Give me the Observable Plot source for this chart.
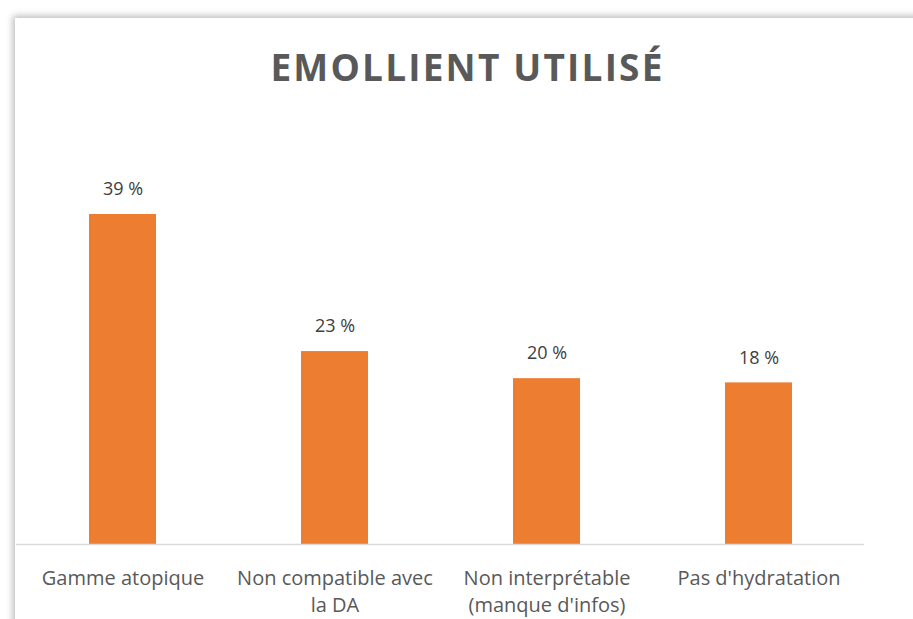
<!DOCTYPE html>
<html>
<head>
<meta charset="utf-8">
<script src="https://cdn.jsdelivr.net/npm/d3@7"></script>
<script src="https://cdn.jsdelivr.net/npm/@observablehq/plot@0.6"></script>
<style>
  html, body { margin: 0; padding: 0; background: #fff; overflow: hidden; }
  body { width: 913px; height: 619px; position: relative; }
  #frame { position: absolute; left: 15px; top: 18px; width: 1000px; height: 700px;
           background: #fff; box-shadow: -2px -2px 7px rgba(0,0,0,0.28); }
  #title { position: absolute; left: 0; width: 935px; top: 41px; text-align: center;
           font-family: "Open Sans", sans-serif; font-weight: 700; font-size: 37px;
           letter-spacing: 2.2px; color: #595959; }
  #chart { position: absolute; left: 0; top: 0; }
</style>
</head>
<body>
<div id="frame"></div>
<div id="title">EMOLLIENT UTILISÉ</div>
<div id="chart"></div>
<script>
const categories = ["Gamme atopique", "Non compatible avec\nla DA", "Non interprétable\n(manque d'infos)", "Pas d'hydratation"];
const values = [39, 22.8, 19.6, 19.1];
const valueLabels = ["39 %", "23 %", "20 %", "18 %"];

const data = categories.map((c, i) => ({category: c, value: values[i], label: valueLabels[i]}));

const chart = Plot.plot({
  width: 913,
  height: 619,
  marginLeft: 16,
  marginRight: 49,
  marginTop: 214,
  marginBottom: 75,
  style: {fontFamily: "Open Sans, sans-serif", background: "transparent", overflow: "visible"},
  x: {domain: categories, paddingInner: 0.684, paddingOuter: 0.342, align: 0.5},
  y: {domain: [0, 39], axis: null},
  marks: [
    Plot.barY(data, {x: "category", y: "value", fill: "#ED7D31"}),
    Plot.ruleY([0], {stroke: "#d9d9d9", strokeWidth: 1.5}),
    Plot.text(data, {x: "category", y: "value", text: "label", dy: -25, fontSize: 18, fill: "#404040"}),
    Plot.axisX({tickSize: 0, tickPadding: 21, fontSize: 20, lineHeight: 1.35, fill: "#595959", label: null})
  ]
});
document.getElementById("chart").appendChild(chart);
</script>
</body>
</html>
